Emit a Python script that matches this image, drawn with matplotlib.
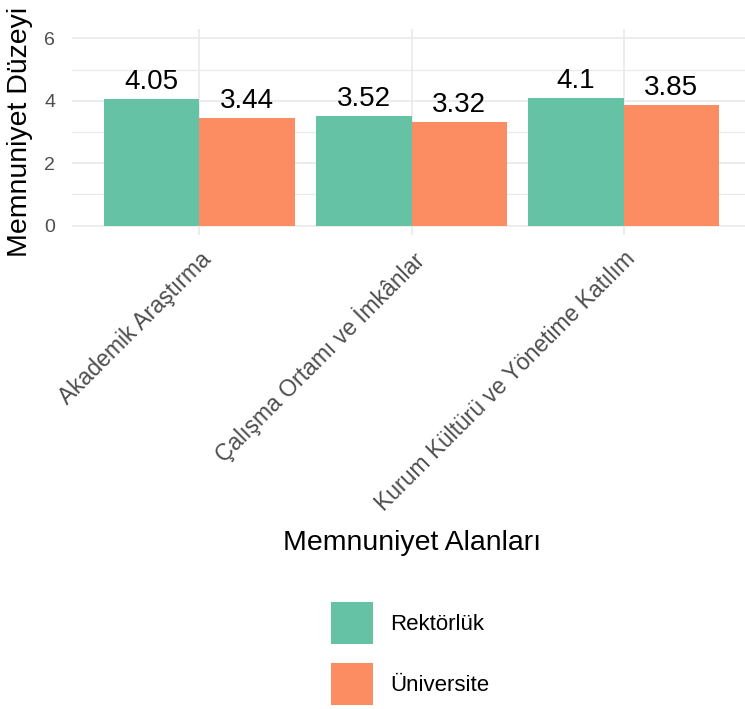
import numpy as np
import matplotlib
matplotlib.use("Agg")
import matplotlib.pyplot as plt

plt.rcParams['font.family'] = ['Liberation Sans', 'DejaVu Sans']

categories = ["Akademik Araştırma", "Çalışma Ortamı ve İmkânlar", "Kurum Kültürü ve Yönetime Katılım"]
groups = ["Rektörlük", "Üniversite"]
rektorluk = [4.05, 3.52, 4.1]
universite = [3.44, 3.32, 3.85]
colors = ["#66C2A5", "#FC8D62"]

W, H = 745, 709
fig = plt.figure(figsize=(W / 100, H / 100), dpi=100)
ax = fig.add_axes([72 / W, 1 - 235 / H, 679 / W, 206 / H])

x = np.arange(len(categories))
bw = 0.45
series = [rektorluk, universite]
for i, (vals, name) in enumerate(zip(series, groups)):
    pos = x + (i - 0.5) * bw
    ax.bar(pos, vals, width=bw, color=colors[i], label=name, zorder=2)
    for px, v in zip(pos, vals):
        ax.annotate(f"{v:g}", (px, v), xytext=(0, 3), textcoords="offset points",
                    ha="center", va="bottom", fontsize=20, color="black", zorder=3)

ax.set_xlim(-0.6, 2.6)
ax.set_ylim(-0.3, 6.3)
ax.set_yticks([0, 2, 4, 6])
ax.set_yticks([1, 3, 5], minor=True)
ax.set_xticks(x)
ax.set_xticklabels(categories, rotation=45, ha="right", va="top",
                   rotation_mode="anchor", fontsize=16.5, color="#4D4D4D")
ax.tick_params(axis="y", labelsize=14, labelcolor="#4D4D4D", length=0, pad=12)
ax.tick_params(axis="y", which="minor", length=0)
ax.tick_params(axis="x", length=0, pad=9)

ax.grid(True, which="major", color="#EBEBEB", linewidth=1.3, zorder=0)
ax.grid(True, which="minor", axis="y", color="#EBEBEB", linewidth=0.9, zorder=0)
ax.set_axisbelow(True)
for s in ax.spines.values():
    s.set_visible(False)

fig.text(20 / W, 1 - 132 / H, "Memnuniyet Düzeyi", rotation=90,
         ha="center", va="center", fontsize=20.5)
fig.text(412 / W, 1 - 543 / H, "Memnuniyet Alanları",
         ha="center", va="center", fontsize=20.5)

handles, labels = ax.get_legend_handles_labels()
fig.legend(handles, labels, loc="upper left", bbox_to_anchor=(331 / W, 1 - 602 / H),
           frameon=False, fontsize=16, handlelength=1.9, handleheight=2.53,
           handletextpad=0.75, labelspacing=0.85, borderpad=0, borderaxespad=0)

fig.savefig("out.png", dpi=100)
